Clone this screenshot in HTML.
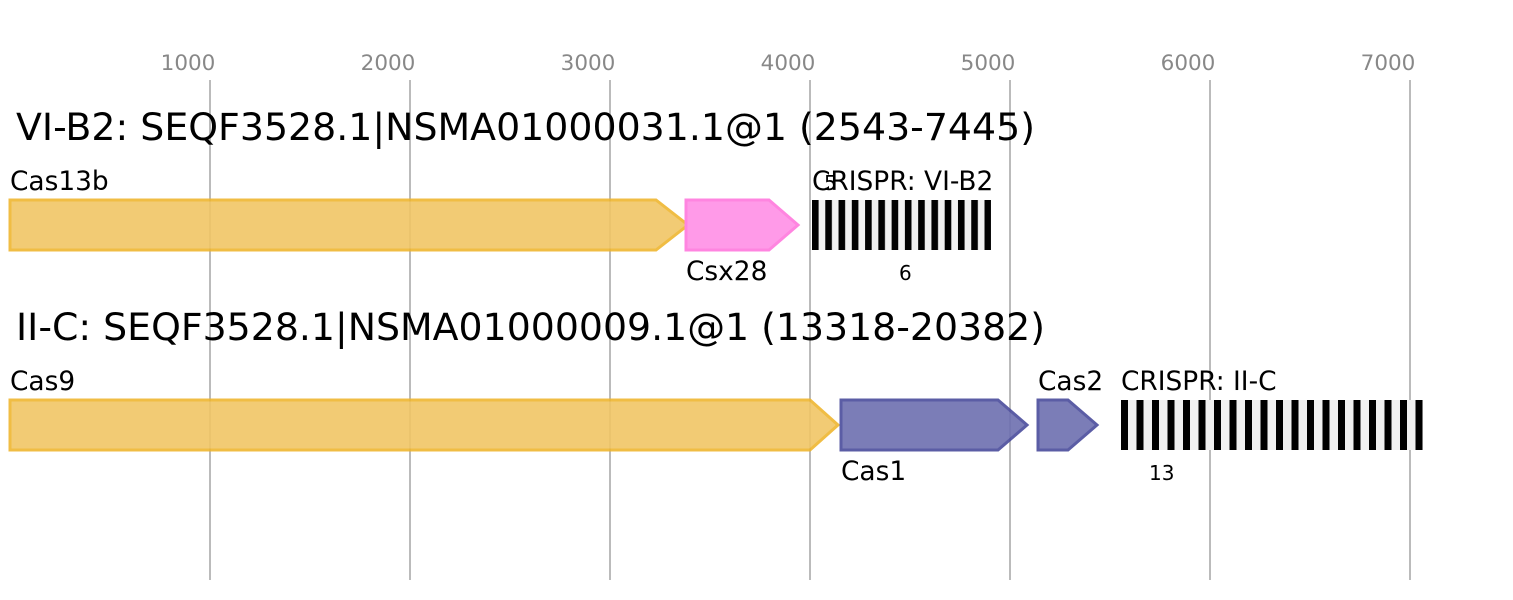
<!DOCTYPE html>
<html><head><meta charset="utf-8"><style>body{margin:0;background:#fff}svg{display:block}text{font-family:"DejaVu Sans","Liberation Sans",sans-serif}</style></head><body>
<svg width="1513" height="600" xmlns="http://www.w3.org/2000/svg">
<defs>
<pattern id="c1" x="812" y="0" width="13.27" height="10" patternUnits="userSpaceOnUse"><rect width="13.27" height="10" fill="#f0f0f0"/><rect width="6.6" height="10" fill="#000"/></pattern>
<pattern id="c2" x="1121" y="0" width="15.5" height="10" patternUnits="userSpaceOnUse"><rect width="15.5" height="10" fill="#f0f0f0"/><rect width="7" height="10" fill="#000"/></pattern>
</defs>
<g stroke="#bbb" stroke-width="2">
<line x1="210" y1="80" x2="210" y2="580"/><line x1="410" y1="80" x2="410" y2="580"/><line x1="610" y1="80" x2="610" y2="580"/><line x1="810" y1="80" x2="810" y2="580"/><line x1="1010" y1="80" x2="1010" y2="580"/><line x1="1210" y1="80" x2="1210" y2="580"/><line x1="1410" y1="80" x2="1410" y2="580"/>
</g>
<g fill="#888" font-size="21.5" text-anchor="middle">
<text x="188" y="70">1000</text><text x="388" y="70">2000</text><text x="588" y="70">3000</text><text x="788" y="70">4000</text><text x="988" y="70">5000</text><text x="1188" y="70">6000</text><text x="1388" y="70">7000</text>
</g>
<text x="16" y="140" font-size="37" textLength="1019" lengthAdjust="spacingAndGlyphs">VI-B2: SEQF3528.1|NSMA01000031.1@1 (2543-7445)</text>
<text x="16" y="340" font-size="37" textLength="1029" lengthAdjust="spacingAndGlyphs">II-C: SEQF3528.1|NSMA01000009.1@1 (13318-20382)</text>
<g stroke-width="3" opacity="0.9">
<polygon points="10,200 656,200 688,225 656,250 10,250" fill="#f1c665" stroke="#efb630"/>
<polygon points="686,200 769,200 798,225 769,250 686,250" fill="#ff90e6" stroke="#ff78dd"/>
<polygon points="10,400 810,400 838,425 810,450 10,450" fill="#f1c665" stroke="#efb630"/>
<polygon points="841,400 998,400 1027,425 998,450 841,450" fill="#6d6fb0" stroke="#4a4c9c"/>
<polygon points="1038,400 1068,400 1097,425 1068,450 1038,450" fill="#6d6fb0" stroke="#4a4c9c"/>
</g>
<rect x="812" y="200" width="179" height="50" fill="url(#c1)"/>
<rect x="1121" y="400" width="302" height="50" fill="url(#c2)"/>
<g font-size="26.4" fill="#000">
<text x="10" y="190">Cas13b</text>
<text x="686" y="280">Csx28</text>
<text x="812" y="190">CRISPR: VI-B2</text>
<text x="10" y="390">Cas9</text>
<text x="841" y="480">Cas1</text>
<text x="1038" y="390">Cas2</text>
<text x="1121" y="390">CRISPR: II-C</text>
</g>
<g font-size="20">
<text x="824" y="190">5</text>
<text x="899" y="280">6</text>
<text x="1149" y="480">13</text>
</g>
</svg>
</body></html>
